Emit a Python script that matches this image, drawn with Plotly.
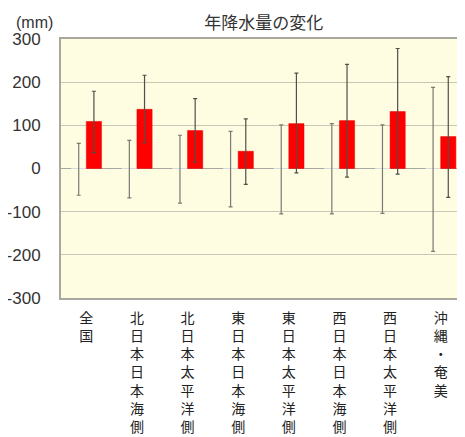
import plotly.graph_objects as go

categories = ["全国", "北日本日本海側", "北日本太平洋側", "東日本日本海側",
              "東日本太平洋側", "西日本日本海側", "西日本太平洋側", "沖縄・奄美"]
# natural variability range (gray whiskers)
var_upper = [58, 65, 77, 86, 101, 104, 101, 188]
var_lower = [-62, -68, -80, -89, -105, -105, -104, -192]
# projected change (red bars) and its range (black whiskers)
change = [109, 137, 88, 40, 104, 111, 132, 74]
change_upper = [179, 216, 162, 115, 221, 241, 278, 213]
change_lower = [37, 60, 15, -37, -10, -20, -13, -67]
y_ticks = [-300, -200, -100, 0, 100, 200, 300]

tick_text = ["<br>".join(list(c)) for c in categories]

fig = go.Figure()
fig.add_trace(go.Bar(
    x=categories, y=[0] * len(categories),
    marker=dict(color="rgba(0,0,0,0)"),
    error_y=dict(type="data", symmetric=False,
                 array=var_upper, arrayminus=[-v for v in var_lower],
                 color="#7a7a70", thickness=1.2, width=2),
    showlegend=False, hoverinfo="skip",
))
fig.add_trace(go.Bar(
    x=categories, y=change,
    marker=dict(color="#ff0000", line=dict(color="#e00000", width=0.5)),
    error_y=dict(type="data", symmetric=False,
                 array=[u - v for u, v in zip(change_upper, change)],
                 arrayminus=[v - l for v, l in zip(change, change_lower)],
                 color="#505048", thickness=1.2, width=2),
    showlegend=False,
))

font_fam = "Liberation Sans, Arial, Noto Sans CJK JP, sans-serif"
fig.update_layout(
    width=465, height=437,
    margin=dict(l=53, r=7, t=31, b=147, autoexpand=False),
    paper_bgcolor="white",
    plot_bgcolor="#fefde2",
    barmode="group", bargap=0.4, bargroupgap=0,
    font=dict(family=font_fam, color="#333333"),
    title=dict(text="年降水量の変化", x=0.55, xanchor="center", y=0.966, yanchor="middle",
               font=dict(size=17, family="Noto Sans CJK JP", color="#333333")),
    xaxis=dict(
        tickmode="array", tickvals=categories, ticktext=tick_text,
        tickangle=0, ticks="", showgrid=False, automargin=False,
        tickfont=dict(size=14, family="Noto Sans CJK JP", color="#222222"),
        showline=True, linecolor="#a8a8a0", linewidth=2, mirror=True,
        range=[-0.5, len(categories) - 0.5],
        ticklabelstandoff=6,
    ),
    yaxis=dict(
        range=[-300, 300], tickvals=y_ticks, ticktext=[str(v) for v in y_ticks],
        showgrid=True, gridcolor="#c9c8b8", gridwidth=1, automargin=False,
        zeroline=True, zerolinecolor="#a8a8a0", zerolinewidth=1,
        showline=True, linecolor="#a8a8a0", linewidth=2, mirror=True,
        tickfont=dict(size=17, family="Liberation Sans, Arial", color="#333333"),
        ticks="", ticklabelstandoff=15,
    ),
    annotations=[dict(text="(mm)", xref="paper", yref="paper", x=0, y=1.0,
                      xanchor="left", yanchor="bottom", xshift=-47, yshift=6, showarrow=False,
                      font=dict(size=16, family="Liberation Sans, Arial", color="#333333"))],
)

fig.write_html("out.html")
